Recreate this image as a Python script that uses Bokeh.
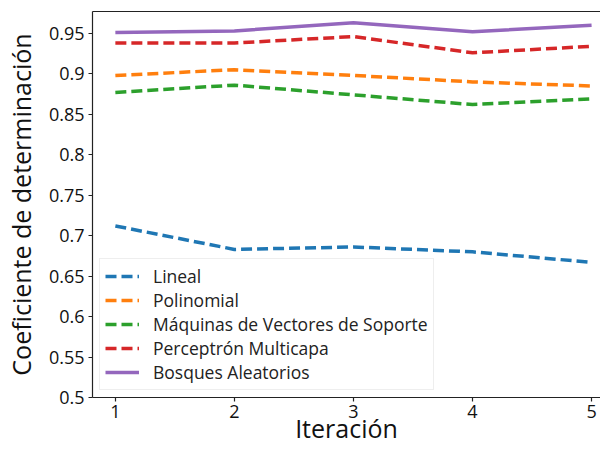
from bokeh.plotting import figure
from bokeh.models import FixedTicker, Legend, LegendItem, Range1d, LinearAxis
from bokeh.embed import file_html
from bokeh.resources import INLINE

iterations = [1, 2, 3, 4, 5]
lineal = [0.712, 0.683, 0.686, 0.680, 0.667]
polinomial = [0.898, 0.905, 0.898, 0.890, 0.885]
svm = [0.877, 0.886, 0.874, 0.862, 0.869]
perceptron = [0.938, 0.938, 0.946, 0.926, 0.934]
bosques = [0.951, 0.953, 0.963, 0.952, 0.960]

series_names = ["Lineal", "Polinomial", "Máquinas de Vectores de Soporte",
                "Perceptrón Multicapa", "Bosques Aleatorios"]
series_values = [lineal, polinomial, svm, perceptron, bosques]
series_colors = ["#1f77b4", "#ff7f0e", "#2ca02c", "#d62728", "#9467bd"]
series_dash = ["11 5", "11 5", "11 5", "11 5", "solid"]

y_ticks = [0.5, 0.55, 0.6, 0.65, 0.7, 0.75, 0.8, 0.85, 0.9, 0.95]
y_tick_labels = ["0.5", "0.55", "0.6", "0.65", "0.7", "0.75", "0.8", "0.85", "0.9", "0.95"]
x_ticks = [1, 2, 3, 4, 5]

FONT = "Open Sans"

p = figure(width=600, height=447, output_backend="svg", toolbar_location=None,
           x_range=Range1d(0.808, 5.075), y_range=Range1d(0.5, 0.977),
           min_border_left=89, min_border_right=0, min_border_top=11, min_border_bottom=0)
p.outline_line_color = None
p.xgrid.visible = False
p.ygrid.visible = False
p.background_fill_color = "white"

xaxis = p.below[0]
yaxis = p.left[0]

top_axis = LinearAxis(ticker=FixedTicker(ticks=x_ticks),
                      major_tick_line_color=None, minor_tick_line_color=None,
                      major_tick_out=0, major_tick_in=0,
                      major_label_text_font_size="0px", major_label_standoff=0,
                      major_label_text_alpha=0,
                      axis_line_color="#222222", axis_line_width=1.2)
p.add_layout(top_axis, "above")

items = []
for name, vals, col, dash in zip(series_names, series_values, series_colors, series_dash):
    r = p.line(iterations, vals, line_color=col, line_width=3.5, line_dash=dash)
    items.append(LegendItem(label=name, renderers=[r]))

for ax in (xaxis, yaxis):
    ax.axis_line_color = "#222222"
    ax.axis_line_width = 1.2
    ax.major_tick_line_color = "#222222"
    ax.major_tick_line_width = 1.2
    ax.major_tick_out = 4
    ax.major_tick_in = 0
    ax.minor_tick_line_color = None
    ax.major_label_text_font = FONT
    ax.major_label_text_font_size = "18px"
    ax.major_label_text_color = "#111111"
    ax.axis_label_text_font = FONT
    ax.axis_label_text_font_size = "25px"
    ax.axis_label_text_font_style = "normal"
    ax.axis_label_text_color = "#111111"

xaxis.ticker = FixedTicker(ticks=x_ticks)
xaxis.axis_label = "Iteración"
xaxis.major_label_standoff = 3
xaxis.axis_label_standoff = -10
yaxis.ticker = FixedTicker(ticks=y_ticks)
yaxis.major_label_overrides = {t: l for t, l in zip(y_ticks, y_tick_labels)}
yaxis.axis_label = "Coeficiente de determinación"
yaxis.major_label_standoff = 4
yaxis.axis_label_standoff = 8

legend = Legend(items=items, location="bottom_left")
legend.label_text_font = FONT
legend.label_text_font_size = "17.5px"
legend.label_text_color = "#222222"
legend.glyph_width = 34
legend.glyph_height = 16
legend.label_standoff = 14
legend.spacing = 0
legend.padding = 5
legend.margin = 7
legend.border_line_color = "#dddddd"
legend.border_line_width = 1
legend.background_fill_alpha = 0.85
p.add_layout(legend)

open("out.html", "w").write(file_html(p, INLINE))
